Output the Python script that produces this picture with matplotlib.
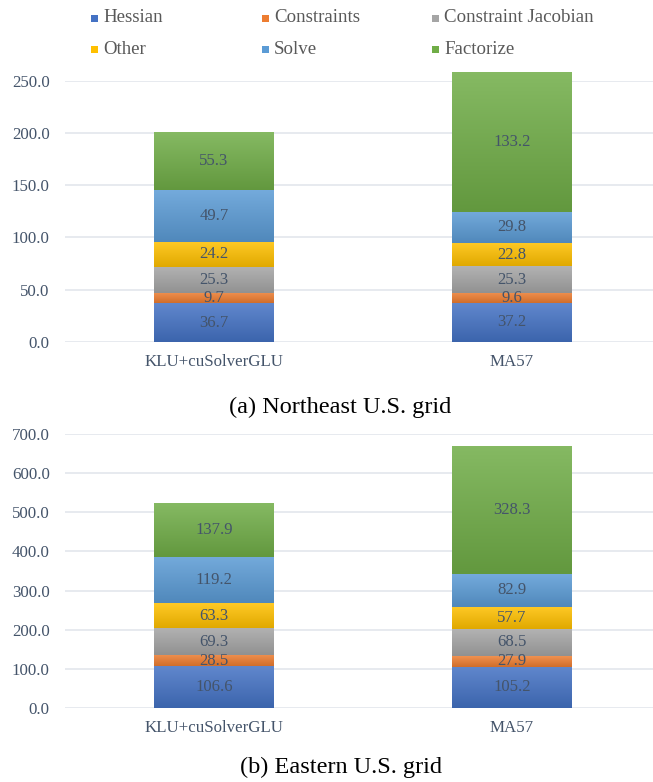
import numpy as np
import matplotlib
matplotlib.use("Agg")
import matplotlib.pyplot as plt
from matplotlib.colors import to_rgb
from matplotlib.patches import Rectangle

plt.rcParams['font.family'] = ['Liberation Serif', 'DejaVu Serif']

solvers = ['KLU+cuSolverGLU', 'MA57']
components = ['Hessian', 'Constraints', 'Constraint Jacobian', 'Other', 'Solve', 'Factorize']
colors = ['#4472C4', '#ED7D31', '#A5A5A5', '#FFC000', '#5B9BD5', '#70AD47']

# Northeast U.S. grid
northeast = {
    'Hessian': [36.7, 37.2],
    'Constraints': [9.7, 9.6],
    'Constraint Jacobian': [25.3, 25.3],
    'Other': [24.2, 22.8],
    'Solve': [49.7, 29.8],
    'Factorize': [55.3, 133.2],
}
# Eastern U.S. grid
eastern = {
    'Hessian': [106.6, 105.2],
    'Constraints': [28.5, 27.9],
    'Constraint Jacobian': [69.3, 68.5],
    'Other': [63.3, 57.7],
    'Solve': [119.2, 82.9],
    'Factorize': [137.9, 328.3],
}

text_col = '#44546A'
W, H = 653, 782


def mix(c, other, t):
    c = np.array(to_rgb(c))
    return tuple(c * (1 - t) + np.array(other) * t)


def gradient_bars(ax, bars, color):
    top = mix(color, (1, 1, 1), 0.15)
    bot = mix(color, (0, 0, 0), 0.12)
    grad = np.linspace(0, 1, 64)[:, None, None]
    img = np.array(bot)[None, None, :] * (1 - grad) + np.array(top)[None, None, :] * grad
    for b in bars:
        x, y = b.get_x(), b.get_y()
        w, h = b.get_width(), b.get_height()
        im = ax.imshow(img, extent=[x, x + w, y, y + h], origin='lower',
                       aspect='auto', zorder=2, interpolation='bilinear')
        im.set_clip_path(b)
        b.set_facecolor('none')


def draw(ax, data, ymax, step):
    x = np.arange(len(solvers))
    bottom = np.zeros(len(solvers))
    for comp, col in zip(components, colors):
        vals = np.array(data[comp])
        bars = ax.bar(x, vals, 0.40, bottom=bottom, color=col, edgecolor='none', zorder=2)
        gradient_bars(ax, bars, col)
        for xi, b, v in zip(x, bottom, vals):
            ax.text(xi, b + v / 2, f'{v:.1f}', ha='center', va='center',
                    fontsize=12, color=text_col, zorder=3)
        bottom += vals
    ax.set_xlim(-0.5, 1.5)
    ax.set_ylim(0, ymax)
    ticks = np.arange(0, ymax + 1, step)
    ax.set_yticks(ticks)
    ax.set_yticklabels([f'{v:.1f}' for v in ticks])
    ax.set_xticks(x)
    ax.set_xticklabels(solvers)
    ax.tick_params(length=0, colors=text_col, labelsize=12.2)
    ax.tick_params(axis='y', pad=11)
    ax.tick_params(axis='x', pad=8.5)
    ax.grid(axis='y', color='#E3E6EC', linewidth=1.2, zorder=0)
    ax.set_axisbelow(True)
    for s in ax.spines.values():
        s.set_visible(False)


fig = plt.figure(figsize=(W / 100, H / 100), dpi=100)
ax1 = fig.add_axes([65 / W, 1 - 341.7 / H, 596 / W, 261 / H])
ax2 = fig.add_axes([65 / W, 1 - 708 / H, 596 / W, 274 / H])
draw(ax1, northeast, 250, 50)
draw(ax2, eastern, 700, 100)

fig.text(340 / W, 1 - 407 / H, '(a) Northeast U.S. grid', ha='center', va='center', fontsize=17.5)
fig.text(341 / W, 1 - 767 / H, '(b) Eastern U.S. grid', ha='center', va='center', fontsize=17.5)

# legend
lx = [94, 265, 435]
ly = [18, 49]
for i, (comp, col) in enumerate(zip(components, colors)):
    px, py = lx[i % 3], ly[i // 3]
    fig.patches.append(Rectangle(((px - 3.5) / W, 1 - (py + 3.5) / H), 7 / W, 7 / H,
                                 transform=fig.transFigure, facecolor=col, edgecolor='none'))
    fig.text((px + 9) / W, 1 - py / H, comp, ha='left', va='center',
             fontsize=13.6, color='#595959')

fig.savefig('out.png', dpi=100)
